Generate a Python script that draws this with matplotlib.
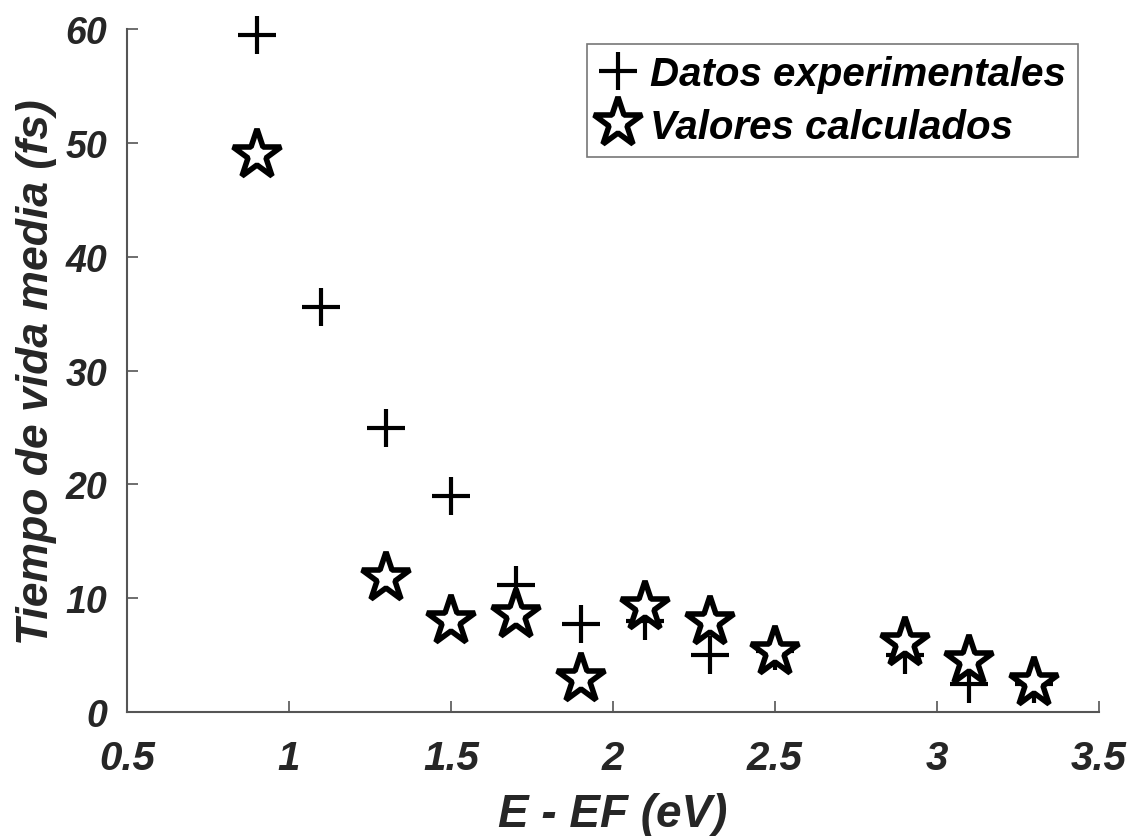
import matplotlib.pyplot as plt
from matplotlib.ticker import FuncFormatter

# Energía sobre el nivel de Fermi (eV)
energy = [0.9, 1.1, 1.3, 1.5, 1.7, 1.9, 2.1, 2.3, 2.5, 2.9, 3.1, 3.3]
tau_exp = [59.5, 35.6, 25.0, 19.0, 11.2, 7.7, 8.0, 5.0, 5.4, 5.0, 2.5, 2.5]

energy_calc = [0.9, 1.3, 1.5, 1.7, 1.9, 2.1, 2.3, 2.5, 2.9, 3.1, 3.3]
tau_calc = [48.9, 11.8, 8.0, 8.5, 2.9, 9.2, 7.9, 5.3, 6.1, 4.5, 2.6]

x_ticks = [0.5, 1, 1.5, 2, 2.5, 3, 3.5]
y_ticks = [0, 10, 20, 30, 40, 50, 60]

plt.rcParams['font.family'] = ['Liberation Sans', 'DejaVu Sans']

fig = plt.figure(figsize=(11.33, 8.37), dpi=100)
ax = fig.add_axes([0.112, 0.148, 0.858, 0.816])

ax.plot(energy, tau_exp, linestyle='none', marker='+', markersize=27,
        markeredgewidth=3, color='black', label='Datos experimentales',
        clip_on=False)
ax.plot(energy_calc, tau_calc, linestyle='none', marker='*', markersize=37,
        markeredgewidth=4, markerfacecolor='white', markeredgecolor='black',
        label='Valores calculados', clip_on=False)

ax.set_xlim(0.5, 3.5)
ax.set_ylim(0, 60)
ax.set_xticks(x_ticks)
ax.set_yticks(y_ticks)
ax.xaxis.set_major_formatter(FuncFormatter(lambda v, p: f"{v:g}"))

for side in ('top', 'right'):
    ax.spines[side].set_visible(False)
for side in ('left', 'bottom'):
    ax.spines[side].set_color('#555555')
    ax.spines[side].set_linewidth(1.5)

ax.tick_params(direction='in', length=8, width=1.2, color='#555555',
               labelcolor='#262626')
ax.tick_params(axis='x', pad=19, labelsize=29)
ax.tick_params(axis='y', pad=14, labelsize=27)
for lab in ax.get_xticklabels() + ax.get_yticklabels():
    lab.set_fontweight('bold')
    lab.set_fontstyle('italic')

ax.set_xlabel('E - EF (eV)', fontsize=33, fontweight='bold', fontstyle='italic',
              color='#262626', labelpad=11)
ax.set_ylabel('Tiempo de vida media (fs)', fontsize=32, fontweight='bold',
              fontstyle='italic', color='#262626', labelpad=6)

leg = ax.legend(loc='upper right', bbox_to_anchor=(0.978, 0.978), fancybox=False,
                edgecolor='#555555', handlelength=1.0, handletextpad=0.3,
                borderpad=0.28, labelspacing=0.35, borderaxespad=0.0,
                prop={'size': 29, 'weight': 'bold', 'style': 'italic'})
leg.get_frame().set_linewidth(1.2)

fig.savefig('out.png', dpi=100)
